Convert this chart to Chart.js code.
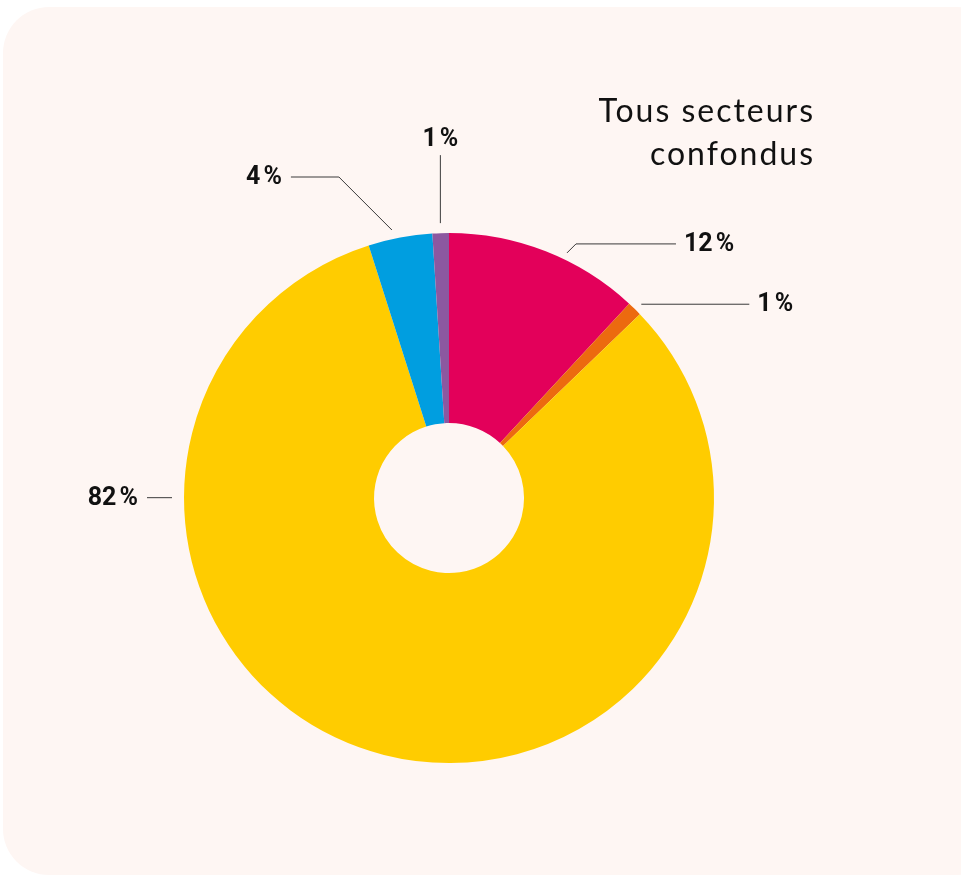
<!DOCTYPE html>
<html>
<head>
<meta charset="utf-8">
<script src="https://cdn.jsdelivr.net/npm/chart.js@4"></script>
<style>
  html, body { margin: 0; padding: 0; background: #ffffff; overflow: hidden; }
  #card {
    position: absolute; left: 3px; top: 7px; width: 1000px; height: 868px;
    background: #fef6f3; border-radius: 46px;
  }
  #wrap { position: absolute; left: 0; top: 0; width: 961px; height: 876px; }
</style>
</head>
<body>
<div id="card"></div>
<div id="wrap"><canvas id="sector-chart" width="961" height="876"></canvas></div>
<script>
// slice data, clockwise from 12 o'clock
const categories = ['Secteur 1', 'Secteur 2', 'Secteur 3', 'Secteur 4', 'Secteur 5'];
const shares = [11.9, 0.9, 82.3, 3.9, 1.0];
const shareLabels = ['12\u202F%', '1\u202F%', '82\u202F%', '4\u202F%', '1\u202F%'];
const sliceColors = ['#e3005a', '#ec6a0f', '#ffcc00', '#009ee0', '#8c58a0'];

// leader line layout per slice (t = position along the arc, gap beyond outer radius,
// elbow offset, horizontal run, text side)
const leaders = [
  { t: 0.6,  gap: 7,  ex: 9,   ey: -9,  run: 100, side: 'right' },
  { t: 0.6,  gap: 8,  ex: 0,   ey: 0,   run: 108, side: 'right' },
  { t: 0.756, gap: 12, ex: 0,  ey: 0,   run: -25, side: 'left' },
  { t: 0.4,  gap: 9,  ex: -53, ey: -53, run: -48, side: 'left' },
  { t: 0.5,  gap: 10, ex: 0,   ey: -68, run: 0,   side: 'top' }
];

const leaderPlugin = {
  id: 'leaderLabels',
  afterDraw(chart) {
    const ctx = chart.ctx;
    const meta = chart.getDatasetMeta(0);
    ctx.save();
    meta.data.forEach((arc, i) => {
      const p = arc.getProps(['x', 'y', 'startAngle', 'endAngle', 'outerRadius'], true);
      const L = leaders[i];
      const a = p.startAngle + (p.endAngle - p.startAngle) * L.t;
      const r = p.outerRadius + L.gap;
      const sx = p.x + Math.cos(a) * r;
      const sy = p.y + Math.sin(a) * r;
      const bx = sx + L.ex, by = sy + L.ey;
      const tx = bx + L.run;
      ctx.strokeStyle = '#3a3a3a';
      ctx.lineWidth = 1;
      ctx.beginPath();
      ctx.moveTo(sx, sy);
      ctx.lineTo(bx, by);
      ctx.lineTo(tx, by);
      ctx.stroke();
      ctx.fillStyle = '#111111';
      ctx.font = 'bold 25px Roboto, "DejaVu Sans", sans-serif';
      if (L.side === 'right') {
        ctx.textAlign = 'left'; ctx.textBaseline = 'middle';
        ctx.fillText(shareLabels[i], tx + 8, by + 1);
      } else if (L.side === 'left') {
        ctx.textAlign = 'right'; ctx.textBaseline = 'middle';
        ctx.fillText(shareLabels[i], tx - 9, by + 1);
      } else {
        ctx.textAlign = 'center'; ctx.textBaseline = 'alphabetic';
        ctx.fillText(shareLabels[i], bx, by - 9);
      }
    });
    // heading
    ctx.fillStyle = '#111111';
    ctx.font = '32px Lato, "DejaVu Sans", sans-serif';
    ctx.textAlign = 'right';
    ctx.textBaseline = 'alphabetic';
    if ('letterSpacing' in ctx) ctx.letterSpacing = '2px';
    ctx.fillText('Tous secteurs', 815, 122);
    ctx.fillText('confondus', 815, 165);
    ctx.restore();
  }
};

const canvas = document.getElementById('sector-chart');
new Chart(canvas.getContext('2d'), {
  type: 'doughnut',
  data: {
    labels: categories,
    datasets: [{
      data: shares,
      backgroundColor: sliceColors,
      borderWidth: 0,
      hoverOffset: 0
    }]
  },
  options: {
    responsive: false,
    animation: false,
    cutout: '28.3%',
    layout: { padding: { left: 184, right: 247, top: 233, bottom: 113 } },
    plugins: {
      legend: { display: false },
      tooltip: { enabled: false }
    }
  },
  plugins: [leaderPlugin]
});
</script>
</body>
</html>
